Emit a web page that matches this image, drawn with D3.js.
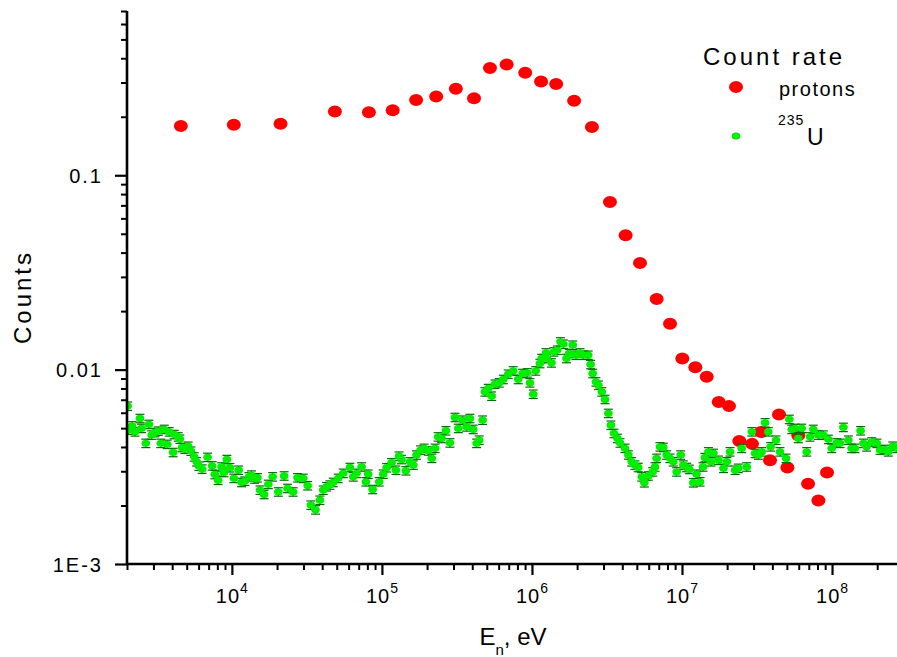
<!DOCTYPE html>
<meta charset="utf-8">

<!-- Load d3.js -->
<script src="https://d3js.org/d3.v7.min.js"></script>
<title>Count rate</title>

<style>
    body { margin: 0; background: #fff; }
    text { font-family: Arial, "Liberation Sans", sans-serif; fill: #000; }
</style>

<!-- Create a div where the graph will take place -->
<div id="my_dataviz"></div>

<script>

    // ---- data ----
    // protons: neutron energy (eV) and counts
    var protonE = [4.57e3, 1.03e4, 2.11e4, 4.86e4, 8.19e4, 1.18e5, 1.69e5, 2.30e5, 3.11e5, 4.11e5,
        5.25e5, 6.78e5, 9.02e5, 1.15e6, 1.45e6, 1.91e6, 2.51e6, 3.31e6, 4.21e6, 5.25e6,
        6.78e6, 8.32e6, 1.005e7, 1.227e7, 1.461e7, 1.757e7, 2.057e7, 2.41e7, 2.93e7, 3.36e7,
        3.86e7, 4.43e7, 5.04e7, 5.96e7, 6.92e7, 8.11e7, 9.26e7];
    var protonCounts = [0.179, 0.182, 0.184, 0.213, 0.211, 0.216, 0.244, 0.254, 0.279, 0.249,
        0.356, 0.371, 0.337, 0.304, 0.295, 0.242, 0.177, 0.0729, 0.0491, 0.0354,
        0.0231, 0.0172, 0.0114, 0.0103, 0.00918, 0.00681, 0.00649, 0.00429, 0.00415, 0.00477,
        0.00342, 0.00588, 0.00314, 0.00460, 0.00259, 0.00212, 0.00296];

    // 235U fission chamber: energy (eV) and counts
    var u235E = [
        2.02e3, 2.04e3, 2.16e3, 2.26e3, 2.44e3, 2.50e3, 2.67e3, 2.80e3, 2.92e3, 3.07e3,
        3.23e3, 3.36e3, 3.54e3, 3.71e3, 3.82e3, 4.06e3, 4.13e3, 4.39e3, 4.50e3, 4.66e3,
        4.86e3, 5.11e3, 5.33e3, 5.61e3, 5.82e3, 6.03e3, 6.34e3, 6.89e3, 7.39e3, 7.70e3,
        8.10e3, 8.54e3, 8.85e3, 9.26e3, 9.70e3, 1.03e4, 1.11e4, 1.16e4, 1.22e4, 1.30e4,
        1.35e4, 1.42e4, 1.48e4, 1.54e4, 1.64e4, 1.75e4, 1.87e4, 2.04e4, 2.23e4, 2.35e4,
        2.56e4, 2.74e4, 2.99e4, 3.20e4, 3.36e4, 3.61e4, 3.86e4, 4.06e4, 4.28e4, 4.50e4,
        4.74e4, 5.11e4, 5.52e4, 6.12e4, 6.44e4, 6.78e4, 7.32e4, 7.82e4, 8.10e4, 8.67e4,
        9.59e4, 1.02e5, 1.075e5, 1.16e5, 1.24e5, 1.30e5, 1.35e5, 1.445e5, 1.54e5, 1.62e5,
        1.70e5, 1.81e5, 1.91e5, 2.04e5, 2.15e5, 2.26e5, 2.37e5, 2.50e5, 2.67e5, 2.84e5,
        3.07e5, 3.23e5, 3.45e5, 3.67e5, 3.86e5, 4.06e5, 4.28e5, 4.45e5, 4.69e5, 4.86e5,
        5.11e5, 5.39e5, 5.67e5, 6.05e5, 6.44e5, 6.95e5, 7.50e5, 8.10e5, 8.67e5, 9.31e5,
        9.70e5, 1.02e6, 1.06e6, 1.13e6, 1.16e6, 1.24e6, 1.25e6, 1.35e6, 1.40e6, 1.475e6,
        1.55e6, 1.62e6, 1.70e6, 1.77e6, 1.87e6, 1.965e6, 2.09e6, 2.20e6, 2.37e6, 2.46e6,
        2.54e6, 2.67e6, 2.77e6, 2.92e6, 3.07e6, 3.23e6, 3.36e6, 3.52e6, 3.71e6, 3.86e6,
        4.17e6, 4.39e6, 4.62e6, 4.86e6, 5.11e6, 5.39e6, 5.61e6, 5.96e6, 6.38e6, 6.61e6,
        6.78e6, 7.13e6, 7.50e6, 7.91e6, 8.32e6, 8.75e6, 9.22e6, 9.80e6, 1.02e7, 1.075e7,
        1.12e7, 1.19e7, 1.25e7, 1.32e7, 1.38e7, 1.42e7, 1.50e7, 1.56e7, 1.62e7, 1.75e7,
        1.89e7, 1.99e7, 2.09e7, 2.26e7, 2.37e7, 2.50e7, 2.70e7, 2.92e7, 3.07e7, 3.23e7,
        3.40e7, 3.58e7, 3.76e7, 3.90e7, 4.23e7, 4.50e7, 4.94e7, 5.19e7, 5.39e7, 5.67e7,
        5.96e7, 6.28e7, 6.78e7, 7.13e7, 7.50e7, 8.10e7, 8.75e7, 9.45e7, 9.95e7, 1.075e8,
        1.13e8, 1.19e8, 1.285e8, 1.35e8, 1.42e8, 1.55e8, 1.62e8, 1.70e8, 1.84e8, 1.99e8,
        2.09e8, 2.26e8, 2.37e8, 2.54e8, 2.70e8];
    var u235Counts = [
        0.00649, 0.00489, 0.00514, 0.00479, 0.00561, 0.00499, 0.00418, 0.00523, 0.00461, 0.00475,
        0.00483, 0.00418, 0.00493, 0.00413, 0.00479, 0.00375, 0.00464, 0.00451, 0.00439, 0.00398,
        0.00390, 0.00404, 0.00381, 0.00356, 0.00336, 0.00319, 0.00308, 0.00354, 0.00320, 0.00289,
        0.00270, 0.00316, 0.00296, 0.00345, 0.00313, 0.00276, 0.00304, 0.00263, 0.00267, 0.00281,
        0.00287, 0.00274, 0.00278, 0.00240, 0.00228, 0.00257, 0.00281, 0.00235, 0.00284, 0.00245,
        0.00235, 0.00278, 0.00276, 0.00253, 0.00201, 0.00190, 0.00213, 0.00240, 0.00250, 0.00255,
        0.00263, 0.00276, 0.00293, 0.00314, 0.00281, 0.00293, 0.00316, 0.00265, 0.00290, 0.00242,
        0.00265, 0.00290, 0.00313, 0.00332, 0.00304, 0.00359, 0.00345, 0.00302, 0.00336, 0.00323,
        0.00364, 0.00386, 0.00394, 0.00382, 0.00350, 0.00394, 0.00451, 0.00443, 0.00485, 0.00420,
        0.00568, 0.00499, 0.00550, 0.00508, 0.00561, 0.00493, 0.00418, 0.00434, 0.00550, 0.00769,
        0.00800, 0.00731, 0.00842, 0.00856, 0.00891, 0.00948, 0.00986, 0.00891, 0.00956, 0.00963,
        0.00856, 0.00748, 0.00986, 0.01076, 0.01142, 0.01220, 0.01142, 0.01084, 0.01235, 0.01260,
        0.01390, 0.01353, 0.01142, 0.01212, 0.01337, 0.01187, 0.01220, 0.01187, 0.01187, 0.01063,
        0.00956, 0.00866, 0.00832, 0.00769, 0.00703, 0.00596, 0.00518, 0.00470, 0.00443, 0.00420,
        0.00394, 0.00364, 0.00336, 0.00323, 0.00314, 0.00281, 0.00262, 0.00284, 0.00298, 0.00316,
        0.00350, 0.00401, 0.00398, 0.00364, 0.00350, 0.00336, 0.00298, 0.00364, 0.00323, 0.00314,
        0.00307, 0.00262, 0.00290, 0.00265, 0.00316, 0.00353, 0.00378, 0.00336, 0.00371, 0.00342,
        0.00311, 0.00336, 0.00378, 0.00304, 0.00311, 0.00394, 0.00316, 0.00479, 0.00371, 0.00364,
        0.00378, 0.00533, 0.00479, 0.00401, 0.00434, 0.00378, 0.00350, 0.00555, 0.00493, 0.00499,
        0.00443, 0.00499, 0.00378, 0.00451, 0.00493, 0.00461, 0.00461, 0.00438, 0.00394, 0.00420,
        0.00418, 0.00505, 0.00434, 0.00394, 0.00394, 0.00485, 0.00418, 0.00401, 0.00425, 0.00418,
        0.00386, 0.00389, 0.00378, 0.00404, 0.00394];
    var u235RelErr = 0.05;

    // axis ranges and tick labels
    var xDomain = [2e3, 2.71e8];
    var yDomain = [1e-3, 0.7];
    var xMajor = [1e4, 1e5, 1e6, 1e7, 1e8];
    var xMajorExp = ["4", "5", "6", "7", "8"];
    var yMajor = [1e-3, 0.01, 0.1];
    var yMajorLabels = ["1E-3", "0.01", "0.1"];

    // ---- layout ----
    var W = 897, H = 657;
    var plot = {left: 127, right: 897, top: 11, bottom: 564};

    var svg = d3.select("#my_dataviz")
        .append("svg")
            .attr("width", W)
            .attr("height", H)
            .style("display", "block");

    var x = d3.scaleLog().domain(xDomain).range([plot.left, plot.right]);
    var y = d3.scaleLog().domain(yDomain).range([plot.bottom, plot.top]);

    // minor ticks 2..9 in each decade
    function minorTicks(dom) {
        var out = [];
        for (var e = Math.floor(Math.log10(dom[0])); e <= Math.ceil(Math.log10(dom[1])); e++) {
            for (var m = 2; m <= 9; m++) {
                var v = m * Math.pow(10, e);
                if (v >= dom[0] * 0.999 && v <= dom[1] * 1.001) out.push(v);
            }
        }
        return out;
    }

    svg.append("clipPath").attr("id", "clip")
        .append("rect")
        .attr("x", plot.left).attr("y", plot.top)
        .attr("width", plot.right - plot.left).attr("height", plot.bottom - plot.top);

    var gData = svg.append("g").attr("clip-path", "url(#clip)");

    var protons = protonE.map(function(e, i) { return [e, protonCounts[i]]; });
    var u235 = u235E.map(function(e, i) { return [e, u235Counts[i]]; });

    // protons (drawn first, green sits on top)
    gData.selectAll("ellipse.proton")
        .data(protons)
        .enter()
        .append("ellipse")
        .attr("class", "proton")
        .attr("cx", function(d) { return x(d[0]); })
        .attr("cy", function(d) { return y(d[1]); })
        .attr("rx", 7)
        .attr("ry", 6)
        .attr("fill", "#ff0000");

    // 235U error bars
    var eb = gData.selectAll("g.err")
        .data(u235)
        .enter()
        .append("g")
        .attr("class", "err")
        .attr("stroke", "#006e00")
        .attr("stroke-width", 1.2);
    eb.append("line")
        .attr("x1", function(d) { return x(d[0]); })
        .attr("x2", function(d) { return x(d[0]); })
        .attr("y1", function(d) { return y(d[1] * (1 + u235RelErr)); })
        .attr("y2", function(d) { return y(d[1] * (1 - u235RelErr)); });
    eb.append("line")
        .attr("x1", function(d) { return x(d[0]) - 4.5; })
        .attr("x2", function(d) { return x(d[0]) + 4.5; })
        .attr("y1", function(d) { return y(d[1] * (1 + u235RelErr)); })
        .attr("y2", function(d) { return y(d[1] * (1 + u235RelErr)); });
    eb.append("line")
        .attr("x1", function(d) { return x(d[0]) - 4.5; })
        .attr("x2", function(d) { return x(d[0]) + 4.5; })
        .attr("y1", function(d) { return y(d[1] * (1 - u235RelErr)); })
        .attr("y2", function(d) { return y(d[1] * (1 - u235RelErr)); });

    // 235U points
    gData.selectAll("ellipse.u235")
        .data(u235)
        .enter()
        .append("ellipse")
        .attr("class", "u235")
        .attr("cx", function(d) { return x(d[0]); })
        .attr("cy", function(d) { return y(d[1]); })
        .attr("rx", 4.3)
        .attr("ry", 3.6)
        .attr("fill", "#00ee00");

    // ---- axes ----
    // X minor
    svg.append("g")
        .attr("transform", "translate(0," + plot.bottom + ")")
        .call(d3.axisBottom(x).tickValues(minorTicks(xDomain)).tickSize(6).tickFormat(""))
        .call(function(g) { g.select(".domain").remove(); })
        .selectAll("line").attr("stroke-width", 2);
    // X major
    var xAx = svg.append("g")
        .attr("transform", "translate(0," + plot.bottom + ")")
        .call(d3.axisBottom(x).tickValues(xMajor).tickSize(11).tickFormat(""));
    xAx.select(".domain").attr("stroke-width", 2.6).attr("d", "M" + plot.left + ",0H" + plot.right);
    xAx.selectAll(".tick line").attr("stroke-width", 2.2);
    xAx.selectAll(".tick").append("text")
        .attr("y", 39)
        .attr("text-anchor", "middle")
        .style("font-size", "20px")
        .style("letter-spacing", "1px")
        .each(function(d, i) {
            var t = d3.select(this);
            t.append("tspan").text("10");
            t.append("tspan").attr("dy", -10).style("font-size", "14px").text(xMajorExp[i]);
        });

    // Y minor
    svg.append("g")
        .attr("transform", "translate(" + plot.left + ",0)")
        .call(d3.axisLeft(y).tickValues(minorTicks(yDomain)).tickSize(6).tickFormat(""))
        .call(function(g) { g.select(".domain").remove(); })
        .selectAll("line").attr("stroke-width", 2);
    // Y major
    var yAx = svg.append("g")
        .attr("transform", "translate(" + plot.left + ",0)")
        .call(d3.axisLeft(y).tickValues(yMajor).tickSize(12).tickFormat(""));
    yAx.select(".domain").attr("stroke-width", 2.6).attr("d", "M0," + plot.top + "V" + plot.bottom);
    yAx.selectAll(".tick line").attr("stroke-width", 2.2);
    yAx.selectAll(".tick").append("text")
        .attr("x", -24)
        .attr("y", 7)
        .attr("text-anchor", "end")
        .style("font-size", "20px")
        .style("letter-spacing", "2px")
        .text(function(d, i) { return yMajorLabels[i]; });

    // axis titles
    var xt = svg.append("text")
        .attr("x", 513)
        .attr("y", 645)
        .attr("text-anchor", "middle")
        .style("font-size", "24px");
    xt.append("tspan").text("E");
    xt.append("tspan").attr("dy", 10).style("font-size", "15px").text("n");
    xt.append("tspan").attr("dy", -10).text(", eV");

    svg.append("text")
        .attr("transform", "translate(31,297)rotate(-90)")
        .attr("text-anchor", "middle")
        .style("font-size", "24px")
        .style("letter-spacing", "3px")
        .text("Counts");

    // ---- legend ----
    svg.append("text")
        .attr("x", 703).attr("y", 65)
        .style("font-size", "24px")
        .style("letter-spacing", "3px")
        .text("Count rate");
    svg.append("ellipse")
        .attr("cx", 736).attr("cy", 87)
        .attr("rx", 7).attr("ry", 6)
        .attr("fill", "#ff0000");
    svg.append("text")
        .attr("x", 779).attr("y", 96)
        .style("font-size", "20px")
        .style("letter-spacing", "1.5px")
        .text("protons");
    svg.append("ellipse")
        .attr("cx", 736).attr("cy", 136)
        .attr("rx", 4.3).attr("ry", 3.6)
        .attr("fill", "#00ee00");
    svg.append("text")
        .attr("x", 778).attr("y", 125)
        .style("font-size", "14px")
        .style("letter-spacing", "1px")
        .text("235");
    svg.append("text")
        .attr("x", 807).attr("y", 145)
        .style("font-size", "23px")
        .text("U");

</script>
